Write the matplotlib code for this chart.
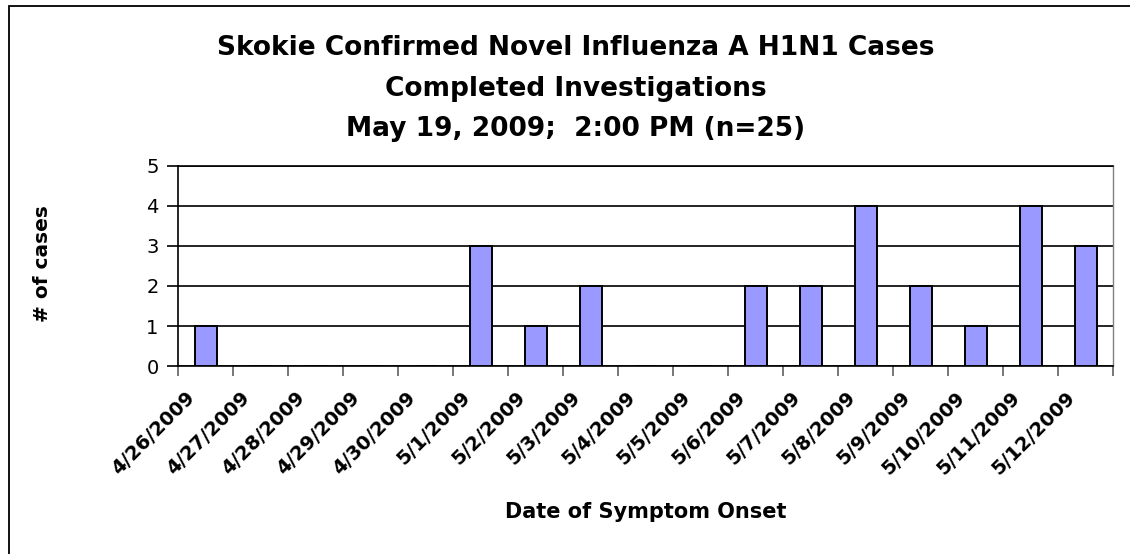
import matplotlib
matplotlib.use("Agg")
import matplotlib.pyplot as plt
from matplotlib.patches import Rectangle

plt.rcParams['font.family'] = ['DejaVu Sans']

dates = ["4/26/2009", "4/27/2009", "4/28/2009", "4/29/2009", "4/30/2009",
         "5/1/2009", "5/2/2009", "5/3/2009", "5/4/2009", "5/5/2009",
         "5/6/2009", "5/7/2009", "5/8/2009", "5/9/2009", "5/10/2009",
         "5/11/2009", "5/12/2009"]
cases = [1, 0, 0, 0, 0, 3, 1, 2, 0, 0, 2, 2, 4, 2, 1, 4, 3]
yticks = [0, 1, 2, 3, 4, 5]

W, H = 1130, 554
fig = plt.figure(figsize=(W / 100, H / 100), dpi=100)
fig.patch.set_facecolor('white')

# outer frame (only left/top visible in reference)
fig.add_artist(Rectangle((8.5 / W, -0.1), 1.2, 1 - 6.5 / H + 0.1, transform=fig.transFigure,
                         fill=False, edgecolor='black', linewidth=1.3))

left, right = 178, 1113
top, bottom = 166, 366
ax = fig.add_axes([left / W, 1 - bottom / H, (right - left) / W, (bottom - top) / H])

n = len(dates)
x = list(range(n))
ax.bar(x, cases, width=0.4, color='#9999FF', edgecolor='black', linewidth=1.4, zorder=3)
ax.set_xlim(-0.5, n - 0.5)
ax.set_ylim(0, 5)
ax.set_yticks(yticks)
ax.set_yticklabels([str(v) for v in yticks], fontsize=14)
ax.yaxis.grid(True, color='black', linewidth=1.2)
ax.set_axisbelow(True)

# category boundary ticks
ax.set_xticks([i - 0.5 for i in range(n + 1)])
ax.set_xticklabels([])
ax.tick_params(axis='x', direction='out', length=7, width=1.2, color='#606060')
ax.tick_params(axis='y', direction='out', length=8, width=1.2, color='black', pad=6)
for i, d in enumerate(dates):
    ax.annotate(d, xy=(i, 0), xycoords='data', xytext=(-20, -22), textcoords='offset pixels',
                rotation=45, ha='right', va='top', rotation_mode='anchor',
                fontsize=14, fontweight='bold')

ax.spines['right'].set_color('#808080')
ax.spines['right'].set_linewidth(1)
ax.spines['top'].set_color('black')
ax.spines['top'].set_linewidth(1.2)
ax.spines['left'].set_color('black')
ax.spines['left'].set_linewidth(1.2)
ax.spines['bottom'].set_color('black')
ax.spines['bottom'].set_linewidth(1.2)

fig.text(42 / W, 1 - 264 / H, "# of cases", rotation=90, ha='center', va='center',
         fontsize=14.5, fontweight='bold')
fig.text(646 / W, 1 - 512 / H, "Date of Symptom Onset", ha='center', va='center',
         fontsize=15, fontweight='bold')

titles = ["Skokie Confirmed Novel Influenza A H1N1 Cases",
          "Completed Investigations",
          "May 19, 2009;  2:00 PM (n=25)"]
for k, t in enumerate(titles):
    fig.text(576 / W, 1 - (48 + 40.5 * k) / H, t, ha='center', va='center',
             fontsize=19, fontweight='bold')

fig.savefig('out.png', dpi=100)
